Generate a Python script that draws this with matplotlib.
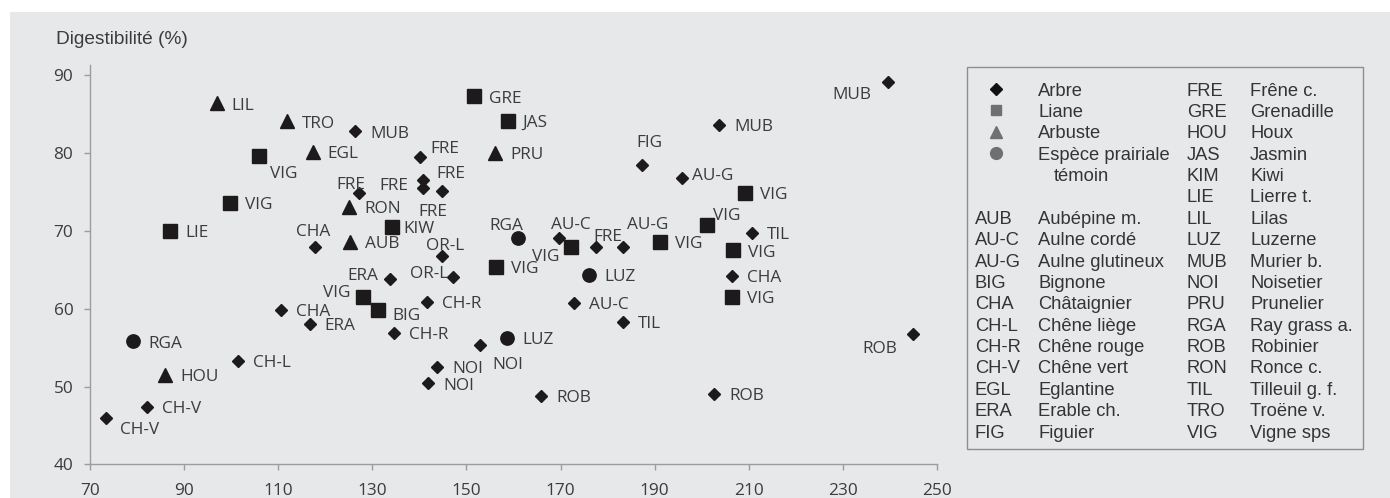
import matplotlib
matplotlib.use('Agg')
import matplotlib.pyplot as plt
from matplotlib.patches import Rectangle

# ---------------- data ----------------
arbre_labels = ['MUB', 'FRE', 'FRE', 'FRE', 'FRE', 'FRE', 'CHA', 'OR-L', 'ERA', 'OR-L',
                'CH-R', 'CHA', 'ERA', 'CH-R', 'CH-L', 'CH-V', 'CH-V', 'NOI', 'NOI', 'NOI',
                'ROB', 'FIG', 'MUB', 'AU-G', 'AU-C', 'FRE', 'AU-G', 'TIL', 'CHA', 'AU-C',
                'TIL', 'MUB', 'ROB', 'ROB']
arbre_x = [126.4, 127.1, 140.2, 140.7, 140.7, 144.8, 117.8, 144.8, 133.8, 147.2,
           141.7, 110.6, 116.7, 134.5, 101.4, 82.2, 73.3, 152.95, 143.8, 141.9,
           165.9, 187.4, 203.7, 195.8, 169.7, 177.6, 183.3, 210.6, 206.4, 172.9,
           183.2, 239.6, 244.9, 202.7]
arbre_y = [82.8, 74.85, 79.5, 76.56, 75.5, 75.15, 67.9, 66.8, 63.8, 64.1,
           60.9, 59.8, 58.0, 56.9, 53.3, 47.4, 46.0, 55.34, 52.5, 50.4,
           48.8, 78.5, 83.6, 76.86, 69.1, 67.9, 67.9, 69.8, 64.25, 60.8,
           58.3, 89.2, 56.76, 49.0]

liane_labels = ['VIG', 'VIG', 'LIE', 'GRE', 'JAS', 'KIW', 'VIG', 'BIG', 'VIG', 'VIG',
                'VIG', 'VIG', 'VIG', 'VIG', 'VIG']
liane_x = [105.9, 99.8, 87.0, 151.6, 158.8, 134.1, 128.0, 131.1, 156.3, 172.2,
           191.2, 201.1, 209.2, 206.6, 206.5]
liane_y = [79.6, 73.6, 70.0, 87.3, 84.2, 70.5, 61.55, 59.9, 65.4, 67.9,
           68.6, 70.8, 74.85, 67.5, 61.55]

arbuste_labels = ['LIL', 'TRO', 'EGL', 'RON', 'AUB', 'PRU', 'HOU']
arbuste_x = [96.9, 111.8, 117.3, 125.1, 125.3, 156.1, 86.0]
arbuste_y = [86.4, 84.1, 80.2, 73.05, 68.6, 80.0, 51.5]

temoin_labels = ['RGA', 'RGA', 'LUZ', 'LUZ']
temoin_x = [79.2, 160.9, 176.1, 158.7]
temoin_y = [55.8, 69.06, 64.3, 56.3]

x_ticks = [70, 90, 110, 130, 150, 170, 190, 210, 230, 250]
y_ticks = [40, 50, 60, 70, 80, 90]
y_title = 'Digestibilité (%)'

legend_types = ['Arbre', 'Liane', 'Arbuste', 'Espèce prairiale']
legend_types_extra = 'témoin'
left_abbr = ['AUB', 'AU-C', 'AU-G', 'BIG', 'CHA', 'CH-L', 'CH-R', 'CH-V', 'EGL', 'ERA', 'FIG']
left_names = ['Aubépine m.', 'Aulne cordé', 'Aulne glutineux', 'Bignone', 'Châtaignier',
              'Chêne liège', 'Chêne rouge', 'Chêne vert', 'Eglantine', 'Erable ch.', 'Figuier']
right_abbr = ['FRE', 'GRE', 'HOU', 'JAS', 'KIM', 'LIE', 'LIL', 'LUZ', 'MUB', 'NOI', 'PRU',
              'RGA', 'ROB', 'RON', 'TIL', 'TRO', 'VIG']
right_names = ['Frêne c.', 'Grenadille', 'Houx', 'Jasmin', 'Kiwi', 'Lierre t.', 'Lilas',
               'Luzerne', 'Murier b.', 'Noisetier', 'Prunelier', 'Ray grass a.', 'Robinier',
               'Ronce c.', 'Tilleuil g. f.', 'Troëne v.', 'Vigne sps']

# ---------------- label placement (pixel offsets; None = right of marker) ----------------
R = None
arbre_off = [R, (-8, 10.6, 'center'), (24, 10, 'center'), (-29, -4, 'center'),
             (10, -21.7, 'center'), (9.3, 19.3, 'center'), (-2, 17.5, 'center'),
             (3.6, 12, 'center'), (-27, 5.3, 'center'), (-24, 5, 'center'),
             R, R, R, R, R, R, (34, -10.4, 'center'), (27, -17.7, 'center'), R, R,
             R, (7, 24, 'center'), R, (10, 3.4, 'left'), (11.4, 15.6, 'center'),
             (11.7, 12.7, 'center'), (24.5, 24.6, 'center'), R, R, R,
             R, (-36, -11, 'center'), (-33, -12.7, 'center'), R]
liane_off = [(25, -15.6, 'center'), R, R, R, R, (12, 0, 'left'), (-26, 5.7, 'center'),
             (29, -4.7, 'center'), R, (-25, -7.3, 'center'), R, (20, 11, 'center'), R, R, R]
arbuste_off = [R] * 7
temoin_off = [R, (-11, 14.3, 'center'), R, R]

# ---------------- figure ----------------
W, H, DPI = 1390, 498, 100
BG = '#e7e8ea'
TXT = '#3c3c3c'
MK = '#1c1a1b'
LBL_FONT = 'Open Sans'
LBL_SIZE = 12.4
LEG_FONT = 'Liberation Sans'

fig = plt.figure(figsize=(W / DPI, H / DPI), dpi=DPI)
fig.patch.set_facecolor('white')
fig.add_artist(Rectangle((10 / W, 0), 1 - 10 / W, (H - 12) / H, transform=fig.transFigure,
                         facecolor=BG, edgecolor='none', zorder=-10))

ax_top_px, ax_bot_px, ax_l_px, ax_r_px = 65, 464.3, 90, 937
ax = fig.add_axes([ax_l_px / W, (H - ax_bot_px) / H, (ax_r_px - ax_l_px) / W,
                   (ax_bot_px - ax_top_px) / H])
ax.set_facecolor('none')
ax.set_xlim(70, 250)
ax.set_ylim(40, 91.35)
ax.set_xticks(x_ticks)
ax.set_yticks(y_ticks)
for s in ['top', 'right']:
    ax.spines[s].set_visible(False)
for s in ['left', 'bottom']:
    ax.spines[s].set_color('#9c9c9c')
    ax.spines[s].set_linewidth(1.0)
ax.tick_params(direction='out', length=4.5, width=1.0, color='#9c9c9c',
               labelcolor=TXT, labelsize=12.4)
ax.tick_params(axis='x', pad=9.0)
ax.tick_params(axis='y', pad=7.5)
for t in ax.get_xticklabels() + ax.get_yticklabels():
    t.set_fontfamily(LBL_FONT)

ax.plot(arbre_x, arbre_y, linestyle='none', marker='D', ms=6.6, color=MK, mec=MK, zorder=3)
ax.plot(liane_x, liane_y, linestyle='none', marker='s', ms=9.8, color=MK, mec=MK, zorder=3)
ax.plot(arbuste_x, arbuste_y, linestyle='none', marker='^', ms=9.6, color=MK, mec=MK, zorder=3)
ax.plot(temoin_x, temoin_y, linestyle='none', marker='o', ms=9.6, color=MK, mec=MK, zorder=3)

cap_half = 0.714 * LBL_SIZE * DPI / 72 / 2


def label_points(labels, xs, ys, offs):
    for lab, x, y, off in zip(labels, xs, ys, offs):
        if off is None:
            dx, dy, ha = 15, 0, 'left'
        else:
            dx, dy, ha = off
        ax.annotate(lab, (x, y), xytext=(dx, dy - cap_half), textcoords='offset pixels',
                    ha=ha, va='baseline', fontsize=LBL_SIZE, family=LBL_FONT, color=TXT,
                    zorder=4)


label_points(arbre_labels, arbre_x, arbre_y, arbre_off)
label_points(liane_labels, liane_x, liane_y, liane_off)
label_points(arbuste_labels, arbuste_x, arbuste_y, arbuste_off)
label_points(temoin_labels, temoin_x, temoin_y, temoin_off)

# y axis title
fig.text(56 / W, 1 - 40 / H, y_title, ha='left', va='center', fontsize=13.8,
         family=LEG_FONT, color=TXT)

# ---------------- legend (drawn in pixel space) ----------------
lax = fig.add_axes([0, 0, 1, 1])
lax.set_xlim(0, W)
lax.set_ylim(H, 0)
lax.axis('off')
lax.patch.set_visible(False)
lax.add_patch(Rectangle((967, 66.7), 395.5, 382.6, fill=False, edgecolor='#8e8e8e', lw=1.0))

row0, step = 89.0, 21.375
LEG_SIZE = 13.2
LEG_TXT = '#343434'
GREY = '#707070'
x_mark, x_name, x_abbr, x_r_abbr, x_r_name = 996, 1038, 975, 1187, 1250

mk_styles = [('D', 5.9, '#111111'), ('s', 6.6, GREY), ('^', 8.2, GREY), ('o', 8.5, GREY)]
for i, (name, (m, ms, c)) in enumerate(zip(legend_types, mk_styles)):
    yy = row0 + i * step
    lax.plot([x_mark], [yy], marker=m, ms=ms, color=c, mec=c, linestyle='none')
    lax.text(x_name, yy, name, ha='left', va='center_baseline', fontsize=LEG_SIZE,
             family=LEG_FONT, color=LEG_TXT)
lax.text(1054, row0 + 4 * step, legend_types_extra, ha='left', va='center_baseline',
         fontsize=LEG_SIZE, family=LEG_FONT, color=LEG_TXT)

for i, (a, n) in enumerate(zip(left_abbr, left_names)):
    yy = row0 + (6 + i) * step
    lax.text(x_abbr, yy, a, ha='left', va='center_baseline', fontsize=LEG_SIZE,
             family=LEG_FONT, color=LEG_TXT)
    lax.text(x_name, yy, n, ha='left', va='center_baseline', fontsize=LEG_SIZE,
             family=LEG_FONT, color=LEG_TXT)

for i, (a, n) in enumerate(zip(right_abbr, right_names)):
    yy = row0 + i * step
    lax.text(x_r_abbr, yy, a, ha='left', va='center_baseline', fontsize=LEG_SIZE,
             family=LEG_FONT, color=LEG_TXT)
    lax.text(x_r_name, yy, n, ha='left', va='center_baseline', fontsize=LEG_SIZE,
             family=LEG_FONT, color=LEG_TXT)

fig.savefig('out.png', dpi=DPI, facecolor=fig.get_facecolor())
